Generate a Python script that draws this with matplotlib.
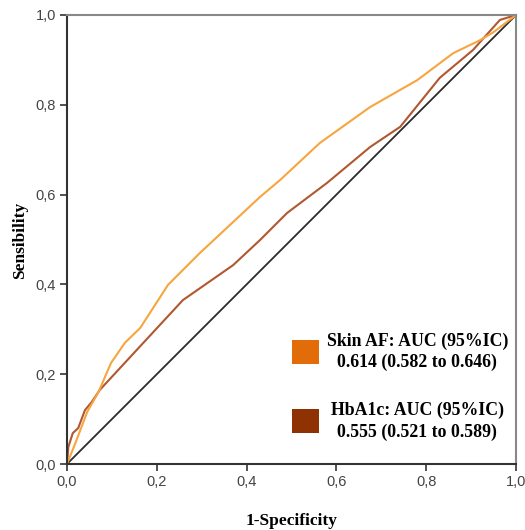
"""ROC curves for Skin AF and HbA1c."""

import matplotlib
matplotlib.use("Agg")
import matplotlib.pyplot as plt
from matplotlib.patches import Rectangle


# ---------------------------------------------------------------------
# Data
# ---------------------------------------------------------------------

skin_fpr = [0.0, 0.02, 0.045, 0.07, 0.098, 0.129, 0.163, 0.225, 0.296,
            0.43, 0.474, 0.563, 0.675, 0.78, 0.86, 0.92, 0.95, 1.0]
skin_tpr = [0.0, 0.05, 0.116, 0.16, 0.225, 0.27, 0.303, 0.399, 0.47,
            0.595, 0.632, 0.715, 0.795, 0.855, 0.915, 0.944, 0.962, 1.0]

hba1c_fpr = [0.0, 0.003, 0.013, 0.025, 0.04, 0.055, 0.073, 0.258, 0.37,
             0.43, 0.49, 0.579, 0.675, 0.742, 0.83, 0.904, 0.964, 1.0]
hba1c_tpr = [0.0, 0.038, 0.069, 0.08, 0.12, 0.138, 0.165, 0.365, 0.443,
             0.499, 0.559, 0.626, 0.706, 0.751, 0.86, 0.922, 0.989, 1.0]

ref_line = [0.0, 1.0]

tick_values = [0.0, 0.2, 0.4, 0.6, 0.8, 1.0]
tick_labels = ["0,0", "0,2", "0,4", "0,6", "0,8", "1,0"]

legend_entries = [
    ("Skin AF: AUC (95%IC)", "0.614 (0.582 to 0.646)", "#E36C0A"),
    ("HbA1c: AUC (95%IC)", "0.555 (0.521 to 0.589)", "#8E3203"),
]

SERIF = ["Liberation Serif", "DejaVu Serif"]
SANS = ["Liberation Sans", "DejaVu Sans"]


# ---------------------------------------------------------------------
# Plot
# ---------------------------------------------------------------------

fig = plt.figure(figsize=(5.25, 5.30), dpi=100)
ax = fig.add_axes([0.1276, 0.1245, 0.8554, 0.8472])

ax.plot(ref_line, ref_line, color="#2b2b2b", linewidth=1.3)
ax.plot(hba1c_fpr, hba1c_tpr, color="#B0582F", linewidth=1.5)
ax.plot(skin_fpr, skin_tpr, color="#F7A53F", linewidth=1.5)

ax.set_xlim(0, 1)
ax.set_ylim(0, 1)
ax.set_xticks(tick_values)
ax.set_xticklabels(tick_labels, fontfamily=SANS)
ax.set_yticks(tick_values)
ax.set_yticklabels(tick_labels, fontfamily=SANS)
ax.tick_params(direction="out", length=5, width=1.2, color="#333333",
               labelsize=10.5, labelcolor="#444444", pad=3)

for side in ["left", "bottom"]:
    ax.spines[side].set_color("#333333")
    ax.spines[side].set_linewidth(1.5)
for side in ["top", "right"]:
    ax.spines[side].set_color("#888888")
    ax.spines[side].set_linewidth(1.5)

ax.set_xlabel("1-Specificity", fontfamily=SERIF, fontweight="bold",
              fontsize=12.5, labelpad=17)
fig.text(20 / 525, 1 - 240 / 530, "Sensibility", rotation=90,
         ha="center", va="center", fontfamily=SERIF, fontweight="bold",
         fontsize=12.5)

# Legend drawn as boxes and centred text, like the original
legend_rows = [(0.274, 0.227, 0.223), (0.120, 0.071, 0.069)]
for (line1, line2, color), (y1, y2, box_y) in zip(legend_entries,
                                                  legend_rows):
    ax.add_patch(Rectangle((0.501, box_y), 0.06, 0.053,
                           facecolor=color, edgecolor="none",
                           transform=ax.transAxes))
    ax.text(0.78, y1, line1, transform=ax.transAxes, ha="center",
            va="center", fontfamily=SERIF, fontweight="bold", fontsize=12.8)
    ax.text(0.78, y2, line2, transform=ax.transAxes,
            ha="center", va="center", fontfamily=SERIF, fontweight="bold",
            fontsize=12.8)

fig.savefig("out.png", dpi=100)
